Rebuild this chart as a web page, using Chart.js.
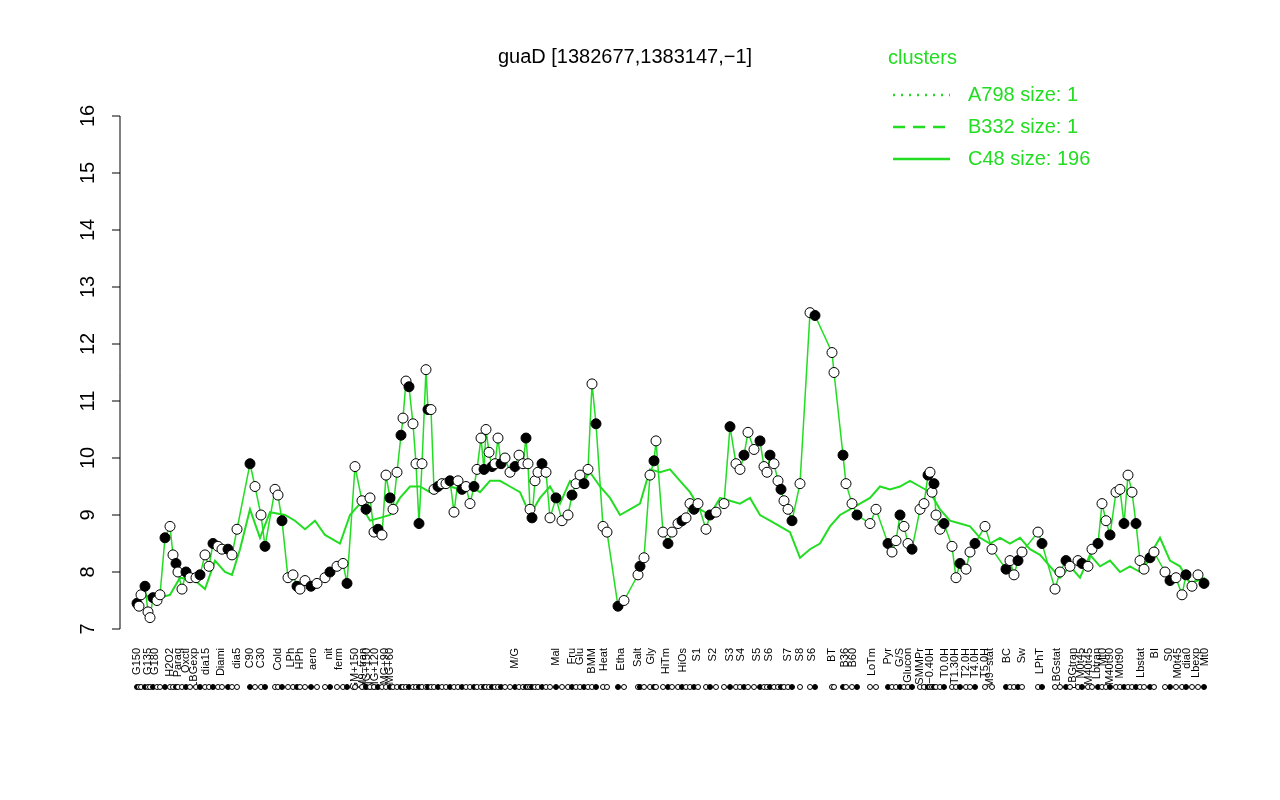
<!DOCTYPE html><html><head><meta charset="utf-8">
<script src="https://cdn.jsdelivr.net/npm/chart.js@4"></script>
<style>html,body{margin:0;background:#fff}#w{width:1280px;height:800px}</style></head><body><div id="w"><canvas id="c"></canvas></div>
<script>
const pointPos=[137,139,141,145,148,150,153,157,160,165,170,173,176,178,182,186,190,196,200,205,209,213,218,222,228,232,237,250,255,261,265,275,278,282,288,293,297,300,305,311,317,325,330,337,343,347,355,362,366,370,374,378,382,386,390,393,397,401,403,406,409,413,416,419,422,426,428,431,434,438,442,446,450,454,458,462,466,470,474,477,481,484,486,489,492,495,498,501,505,510,515,519,523,526,528,530,532,535,538,542,546,550,556,562,568,572,576,580,584,588,592,596,603,607,618,624,638,640,644,650,654,656,663,668,672,678,682,686,690,694,698,706,710,716,724,730,736,740,744,748,754,760,764,767,770,774,778,781,784,788,792,800,810,815,832,834,843,846,852,857,870,876,888,892,896,900,904,908,912,920,924,928,930,932,934,936,940,944,952,956,960,966,970,975,985,992,1006,1010,1014,1018,1022,1038,1042,1055,1060,1066,1070,1078,1082,1088,1092,1098,1102,1106,1110,1116,1120,1124,1128,1132,1136,1140,1144,1150,1154,1165,1170,1176,1182,1186,1192,1198,1204];
const pointVals=[7.45,7.4,7.6,7.75,7.3,7.2,7.55,7.5,7.6,8.6,8.8,8.3,8.15,8.0,7.7,8.0,7.9,7.9,7.95,8.3,8.1,8.5,8.45,8.4,8.4,8.3,8.75,9.9,9.5,9.0,8.45,9.45,9.35,8.9,7.9,7.95,7.75,7.7,7.85,7.75,7.8,7.9,8.0,8.1,8.15,7.8,9.85,9.25,9.1,9.3,8.7,8.75,8.65,9.7,9.3,9.1,9.75,10.4,10.7,11.35,11.25,10.6,9.9,8.85,9.9,11.55,10.85,10.85,9.45,9.5,9.55,9.55,9.6,9.05,9.6,9.45,9.5,9.2,9.5,9.8,10.35,9.8,10.5,10.1,9.85,9.9,10.35,9.9,10.0,9.75,9.85,10.05,9.9,10.35,9.9,9.1,8.95,9.6,9.75,9.9,9.75,8.95,9.3,8.9,9.0,9.35,9.55,9.7,9.55,9.8,11.3,10.6,8.8,8.7,7.4,7.5,7.95,8.1,8.25,9.7,9.95,10.3,8.7,8.5,8.7,8.85,8.9,8.95,9.2,9.1,9.2,8.75,9.0,9.05,9.2,10.55,9.9,9.8,10.05,10.45,10.15,10.3,9.85,9.75,10.05,9.9,9.6,9.45,9.25,9.1,8.9,9.55,12.55,12.5,11.85,11.5,10.05,9.55,9.2,9.0,8.85,9.1,8.5,8.35,8.55,9.0,8.8,8.5,8.4,9.1,9.2,9.7,9.75,9.4,9.55,9.0,8.75,8.85,8.45,7.9,8.15,8.05,8.35,8.5,8.8,8.4,8.05,8.2,7.95,8.2,8.35,8.7,8.5,7.7,8.0,8.2,8.1,8.2,8.15,8.1,8.4,8.5,9.2,8.9,8.65,9.4,9.45,8.85,9.7,9.4,8.85,8.2,8.05,8.25,8.35,8.0,7.85,7.9,7.6,7.95,7.75,7.95,7.8];
const clusterPos=[137,160,170,180,195,205,215,225,232,240,250,260,270,285,295,305,315,325,340,350,360,370,380,390,400,410,420,430,440,450,460,470,480,490,500,510,520,530,540,550,560,570,580,590,600,610,620,630,640,650,660,670,680,690,700,710,720,730,740,750,760,770,780,790,800,810,820,830,840,850,860,870,880,890,900,910,920,930,940,950,960,970,980,990,1000,1010,1020,1030,1040,1050,1060,1070,1080,1090,1100,1110,1120,1130,1140,1150,1160,1170,1180,1190,1205];
const clusterVals=[7.6,7.55,7.6,7.9,7.85,7.7,8.2,8.0,7.95,8.4,9.1,8.6,9.05,9.0,8.9,8.75,8.9,8.65,8.5,9.0,9.2,8.9,8.95,9.0,9.3,9.5,9.5,9.4,9.55,9.5,9.45,9.5,9.4,9.6,9.6,9.5,9.4,9.0,9.3,9.5,9.2,9.6,9.5,9.75,9.5,9.3,9.0,9.1,9.2,9.8,9.75,9.8,9.6,9.4,9.1,9.0,9.3,9.25,9.2,9.3,9.0,8.9,8.8,8.7,8.25,8.4,8.5,8.8,9.0,9.1,9.2,9.3,9.5,9.45,9.5,9.6,9.5,9.4,9.1,8.9,8.85,8.8,8.6,8.5,8.6,8.5,8.6,8.4,8.3,8.1,7.9,8.1,7.9,8.3,8.1,8.2,8.0,8.1,8.0,8.3,8.6,8.2,8.1,7.8,7.9];
const labelPos=[137,148,155,170,178,186,194,206,221,237,250,261,278,291,300,313,329,339,355,363,367,375,385,390,515,556,572,580,592,604,621,638,651,666,683,697,713,730,741,757,769,788,800,812,832,845,853,872,888,900,908,920,930,945,955,966,975,985,990,1007,1022,1040,1057,1073,1081,1089,1097,1103,1110,1120,1141,1155,1169,1178,1187,1196,1205];
const labelNames=["G150","G135","G180","H2O2","Paraq","Oxctl","LBGexp","dia15","Diami","dia5","C90","C30","Cold","LPh","HPh","aero","nit","ferm","GM+150","M9−tran","MG+150","MG+120","MG+90","MG+60","M/G","Mal","Fru","Glu","BMM","Heat","Etha","Salt","Gly","HiTm","HiOs","S1","S2","S3","S4","S5","S6","S7","S8","S6","BT","B36","B60","LoTm","Pyr","G/S","Glucon","SMMPr","T−0.40H","T0.0H","T1.30H","T2.0H","T4.0H","T5.0H","M9−stat","BC","Sw","LPhT","LBGstat","LBGtran","M0t45","M40t45","Lbtran","Mt0","M40t90","M0t90","Lbstat","BI","S0","M0t45","dia0","Lbexp","Mt0"];
const yTicks=[7,8,9,10,11,12,13,14,15,16];
const G='#22dd22';
const deco={id:'deco',afterDraw(ch){const c=ch.ctx,y=ch.scales.y,x=ch.scales.x,a=ch.chartArea;c.save();c.strokeStyle='#000';c.fillStyle='#000';c.lineWidth=1;
c.beginPath();c.moveTo(120,y.getPixelForValue(7));c.lineTo(120,y.getPixelForValue(16));c.stroke();
c.font='20px "Liberation Sans",Arial';c.textAlign='center';c.textBaseline='middle';
yTicks.forEach(t=>{const p=y.getPixelForValue(t);c.beginPath();c.moveTo(120,p);c.lineTo(112,p);c.stroke();c.save();c.translate(88,p);c.rotate(-Math.PI/2);c.fillText(String(t),0,0);c.restore();});
c.font='20px "Liberation Sans",Arial';c.fillText('guaD [1382677,1383147,−1]',625,57);
c.font='11px "Liberation Sans",Arial';c.textAlign='right';
labelPos.forEach((p,i)=>{const px=x.getPixelForValue(p);c.save();c.translate(px,648);c.rotate(-Math.PI/2);c.fillText(labelNames[i],0,0);c.restore();});
pointPos.forEach((p,i)=>{const px=x.getPixelForValue(p);c.beginPath();c.arc(px,687,2.5,0,7);c.fillStyle=i%3?'#fff':'#000';c.fill();c.stroke();});
c.fillStyle=G;c.textAlign='left';c.font='20px "Liberation Sans",Arial';c.fillText('clusters',888,58);
const L=[['A798 size: 1',[2,6]],['B332 size: 1',[12,8]],['C48 size: 196',[]]];
L.forEach((l,i)=>{const yy=95+i*32;c.strokeStyle=G;c.lineWidth=2.5;c.setLineDash(l[1]);c.beginPath();c.moveTo(893,yy);c.lineTo(950,yy);c.stroke();c.setLineDash([]);c.fillText(l[0],968,yy);});
c.restore();}};
new Chart(document.getElementById('c'),{type:'scatter',data:{datasets:[
{data:pointPos.map((p,i)=>({x:p,y:pointVals[i]})),showLine:true,borderColor:G,borderWidth:1.5,pointRadius:5,pointBorderColor:'#000',pointBorderWidth:1,pointBackgroundColor:pointPos.map((p,i)=>i%3?'#fff':'#000')},
{data:clusterPos.map((p,i)=>({x:p,y:clusterVals[i]})),showLine:true,borderColor:G,borderWidth:2,pointRadius:0}]},
options:{responsive:true,maintainAspectRatio:false,animation:false,layout:{padding:{left:120,right:65,top:116,bottom:171}},
plugins:{legend:{display:false},tooltip:{enabled:false}},
scales:{x:{type:'linear',min:120,max:1215,display:false},y:{min:7,max:16,display:false}}},plugins:[deco]});
</script></body></html>
